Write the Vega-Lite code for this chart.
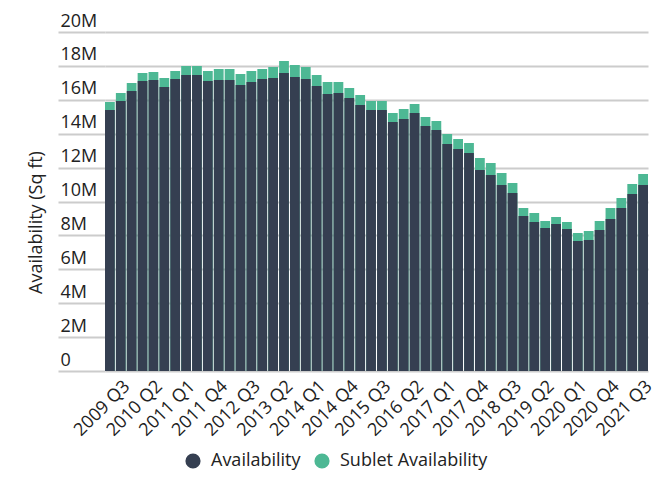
{
  "$schema": "https://vega.github.io/schema/vega-lite/v6.json",
  "width": 543,
  "height": 339,
  "autosize": "none",
  "padding": {"left": 105, "top": 32, "right": 22, "bottom": 130},
  "config": {"view": {"stroke": null}, "font": "Open Sans"},
  "datasets": {
    "avail": [
      {"q": "2009 Q2", "total": 15.87, "a": 15.40},
      {"q": "2009 Q3", "total": 16.40, "a": 15.93},
      {"q": "2009 Q4", "total": 16.99, "a": 16.52},
      {"q": "2010 Q1", "total": 17.58, "a": 17.11},
      {"q": "2010 Q2", "total": 17.64, "a": 17.17},
      {"q": "2010 Q3", "total": 17.29, "a": 16.76},
      {"q": "2010 Q4", "total": 17.70, "a": 17.23},
      {"q": "2011 Q1", "total": 17.99, "a": 17.46},
      {"q": "2011 Q2", "total": 17.99, "a": 17.46},
      {"q": "2011 Q3", "total": 17.70, "a": 17.11},
      {"q": "2011 Q4", "total": 17.82, "a": 17.17},
      {"q": "2012 Q1", "total": 17.82, "a": 17.17},
      {"q": "2012 Q2", "total": 17.52, "a": 16.87},
      {"q": "2012 Q3", "total": 17.70, "a": 17.05},
      {"q": "2012 Q4", "total": 17.82, "a": 17.23},
      {"q": "2013 Q1", "total": 17.94, "a": 17.29},
      {"q": "2013 Q2", "total": 18.29, "a": 17.58},
      {"q": "2013 Q3", "total": 18.05, "a": 17.35},
      {"q": "2013 Q4", "total": 17.94, "a": 17.23},
      {"q": "2014 Q1", "total": 17.46, "a": 16.81},
      {"q": "2014 Q2", "total": 17.05, "a": 16.34},
      {"q": "2014 Q3", "total": 17.05, "a": 16.40},
      {"q": "2014 Q4", "total": 16.70, "a": 16.11},
      {"q": "2015 Q1", "total": 16.28, "a": 15.69},
      {"q": "2015 Q2", "total": 15.93, "a": 15.40},
      {"q": "2015 Q3", "total": 15.93, "a": 15.40},
      {"q": "2015 Q4", "total": 15.22, "a": 14.69},
      {"q": "2016 Q1", "total": 15.46, "a": 14.87},
      {"q": "2016 Q2", "total": 15.75, "a": 15.22},
      {"q": "2016 Q3", "total": 14.99, "a": 14.45},
      {"q": "2016 Q4", "total": 14.75, "a": 14.22},
      {"q": "2017 Q1", "total": 13.98, "a": 13.39},
      {"q": "2017 Q2", "total": 13.69, "a": 13.10},
      {"q": "2017 Q3", "total": 13.45, "a": 12.86},
      {"q": "2017 Q4", "total": 12.57, "a": 11.86},
      {"q": "2018 Q1", "total": 12.27, "a": 11.56},
      {"q": "2018 Q2", "total": 11.68, "a": 10.97},
      {"q": "2018 Q3", "total": 11.09, "a": 10.50},
      {"q": "2018 Q4", "total": 9.62, "a": 9.14},
      {"q": "2019 Q1", "total": 9.32, "a": 8.79},
      {"q": "2019 Q2", "total": 8.85, "a": 8.44},
      {"q": "2019 Q3", "total": 9.09, "a": 8.67},
      {"q": "2019 Q4", "total": 8.79, "a": 8.38},
      {"q": "2020 Q1", "total": 8.14, "a": 7.67},
      {"q": "2020 Q2", "total": 8.26, "a": 7.73},
      {"q": "2020 Q3", "total": 8.85, "a": 8.32},
      {"q": "2020 Q4", "total": 9.62, "a": 8.97},
      {"q": "2021 Q1", "total": 10.21, "a": 9.62},
      {"q": "2021 Q2", "total": 11.03, "a": 10.44},
      {"q": "2021 Q3", "total": 11.62, "a": 10.97}
    ]
  },
  "data": {"name": "avail"},
  "layer": [
    {
      "mark": {"type": "bar", "color": "#4db894"},
      "encoding": {
        "x": {"field": "q", "type": "ordinal", "sort": null},
        "y": {"field": "total", "type": "quantitative"},
        "color": {"datum": "Sublet Availability"}
      }
    },
    {
      "mark": {"type": "bar", "color": "#353f51"},
      "encoding": {
        "x": {"field": "q", "type": "ordinal", "sort": null},
        "y": {"field": "a", "type": "quantitative"},
        "color": {"datum": "Availability"}
      }
    }
  ],
  "encoding": {
    "x": {
      "field": "q", "type": "ordinal", "sort": null,
      "scale": {"paddingInner": 0.1, "paddingOuter": 0},
      "axis": {
        "title": null,
        "values": ["2009 Q3","2010 Q2","2011 Q1","2011 Q4","2012 Q3","2013 Q2","2014 Q1","2014 Q4","2015 Q3","2016 Q2","2017 Q1","2017 Q4","2018 Q3","2019 Q2","2020 Q1","2020 Q4","2021 Q3"],
        "labelAngle": -45,
        "labelFontSize": 18,
        "labelColor": "#222222",
        "ticks": false,
        "domain": false,
        "labelPadding": 6
      }
    },
    "y": {
      "type": "quantitative",
      "scale": {"domain": [0, 20]},
      "axis": {
        "title": "Availability (Sq ft)",
        "values": [0, 2, 4, 6, 8, 10, 12, 14, 16, 18, 20],
        "labelExpr": "datum.value == 0 ? '0' : datum.value + 'M'",
        "grid": true,
        "gridColor": "#cccccc",
        "gridWidth": 2,
        "ticks": true,
        "tickSize": 47,
        "tickColor": "#cccccc",
        "tickWidth": 2,
        "domain": false,
        "labelAlign": "left",
        "labelBaseline": "alphabetic",
        "labelPadding": -2,
        "labelOffset": -6,
        "labelFontSize": 18,
        "labelColor": "#222222",
        "titleFontSize": 18,
        "titleFontWeight": "normal",
        "titleColor": "#222222",
        "titleX": -60,
        "titleY": 190
      }
    },
    "color": {
      "type": "nominal",
      "scale": {"domain": ["Availability", "Sublet Availability"], "range": ["#353f51", "#4db894"]},
      "legend": {
        "title": null,
        "orient": "none",
        "legendX": 79,
        "legendY": 420,
        "direction": "horizontal",
        "symbolType": "circle",
        "symbolSize": 230,
        "symbolStrokeWidth": 0,
        "labelFontSize": 18,
        "labelColor": "#222222",
        "labelOffset": 9,
        "columnPadding": 12
      }
    }
  }
}
